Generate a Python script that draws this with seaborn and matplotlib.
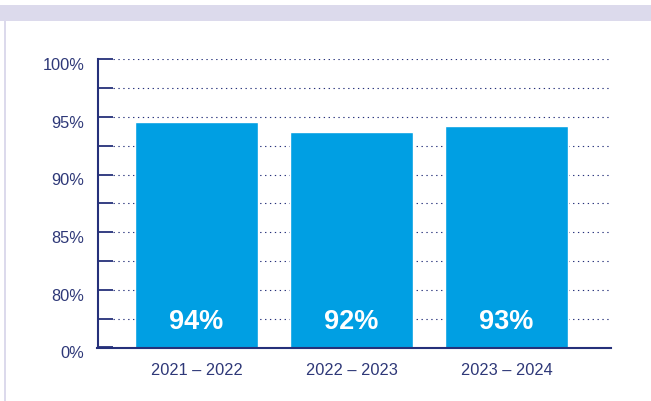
import matplotlib
matplotlib.use("Agg")
import matplotlib.pyplot as plt
import matplotlib.patches as mpatches
from matplotlib.transforms import ScaledTranslation
import seaborn as sns
import pandas as pd

# ---- data ----
categories = ["2021 – 2022", "2022 – 2023", "2023 – 2024"]
bar_values = [94.6, 93.7, 94.2]
bar_labels = ["94%", "92%", "93%"]
ytick_values = [75, 80, 85, 90, 95, 100]
ytick_labels = ["0%", "80%", "85%", "90%", "95%", "100%"]
grid_values = [77.5, 80, 82.5, 85, 87.5, 90, 92.5, 95, 97.5, 100]

NAVY = "#25307a"
TEXT = "#2e3878"
BLUE = "#009fe3"
LAV = "#dcdaec"

sns.set_theme(style="white")
plt.rcParams["font.family"] = ["Liberation Sans", "DejaVu Sans"]

W, H = 651, 401
fig = plt.figure(figsize=(W / 100, H / 100), dpi=100)
fig.patch.set_facecolor("white")

# decorative top band and left line
fig.add_artist(mpatches.Rectangle((0, 1 - 21 / H), 1, 16 / H, transform=fig.transFigure,
                                  facecolor=LAV, edgecolor="none", zorder=0))
fig.add_artist(mpatches.Rectangle((3.5 / W, 0), 2 / W, 1 - 21 / H, transform=fig.transFigure,
                                  facecolor=LAV, edgecolor="none", zorder=0))

left, right, top, bottom = 97.5, 611, 59.3, 347.5
ax = fig.add_axes([left / W, 1 - bottom / H, (right - left) / W, (bottom - top) / H])
ax.set_facecolor("none")

df = pd.DataFrame({"period": categories, "value": bar_values})
sns.barplot(data=df, x="period", y="value", color=BLUE, saturation=1, width=0.79,
            ax=ax, zorder=3)

ax.set_ylim(75, 100)
ax.set_xlim(-0.639, 2.674)

# dotted gridlines starting after the inward ticks
for g in grid_values:
    ax.axhline(g, xmin=0.030, xmax=1.0, color=NAVY, linestyle=(0, (1.2, 3.2)),
               linewidth=0.8, zorder=1)

ax.set_yticks(ytick_values)
ax.set_yticklabels(ytick_labels)
ax.set_yticks(grid_values[0::2], minor=True)
ax.tick_params(axis="y", which="both", direction="in", length=10.5, width=1.3,
               color=NAVY, pad=9.5, labelsize=11.8, labelcolor=TEXT, left=True)
ax.tick_params(axis="x", length=0, pad=11.5, labelsize=11.8, labelcolor=TEXT)
for lab in ax.get_yticklabels():
    lab.set_transform(lab.get_transform() + ScaledTranslation(0, -3.5 / 72, fig.dpi_scale_trans))

ax.set_xlabel("")
ax.set_ylabel("")
for s in ["top", "right"]:
    ax.spines[s].set_visible(False)
for s in ["left", "bottom"]:
    ax.spines[s].set_color(NAVY)
    ax.spines[s].set_linewidth(1.5)
    ax.spines[s].set_zorder(4)

for i, lab in enumerate(bar_labels):
    ax.text(i, 76.58, lab, ha="center", va="baseline", color="white",
            fontsize=19.5, fontweight="bold", zorder=5)

fig.savefig("out.png", dpi=100)
